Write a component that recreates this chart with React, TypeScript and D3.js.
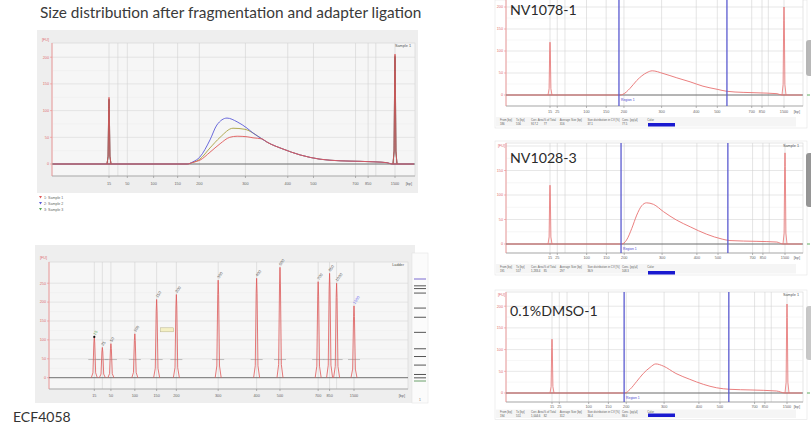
import React from "react";
import * as d3 from "d3";

// ---------------- DATA ----------------
const ladderSizes = [15, 25, 50, 100, 150, 200, 300, 400, 500, 700, 850, 1000, 1500];
const ladderFU = [108, 80, 90, 116, 207, 220, 258, 263, 292, 254, 276, 250, 190];

const sampleTicks = [15, 50, 100, 150, 200, 300, 400, 500, 700, 850, 1500];
const ladderTicks = [15, 50, 100, 150, 200, 300, 400, 500, 700, 850, 1500];
const panelTicks = [15, 25, 100, 150, 200, 300, 400, 500, 700, 850, 1500];
const fuTicks = [0, 50, 100, 150, 200];
const ladderFuTicks = [0, 50, 100, 150, 200, 250];
const markerSizes = [15, 1500];

// overlay of three samples (top-left)
const s1Bp = [172, 185, 201, 223, 245, 266, 282, 304, 318, 339, 351, 389, 448, 531, 626, 754, 983, 1290, 1420];
const s1Fu = [0, 3, 7, 22, 38, 50, 52, 51, 49, 47, 41, 28, 17, 9, 6, 5, 4, 2.5, 0];
const s2Bp = [172, 185, 201, 223, 238, 260, 282, 304, 318, 339, 351, 389, 448, 531, 626, 754, 983, 1290, 1420];
const s2Fu = [0, 4, 13, 45, 73, 86, 79, 67, 58, 47, 41, 28, 17, 9, 6, 5, 4, 2.5, 0];
const s3Bp = [172, 185, 201, 223, 245, 273, 299, 318, 339, 351, 389, 448, 531, 626, 754, 983, 1290, 1420];
const s3Fu = [0, 3, 9, 30, 50, 67, 65, 58, 47, 41, 28, 17, 9, 6, 5, 4, 2.5, 0];
const s1Markers = [125, 206];
const s2Markers = [122, 203];
const s3Markers = [120, 200];
const overlayNames = ["1: Sample 1", "2: Sample 2", "3: Sample 3"];

// individual samples (right)
const panelNames = ["NV1078-1", "NV1028-3", "0.1%DMSO-1"];
const p1Bp = [189, 197, 216, 234, 261, 275, 304, 344, 382, 432, 499, 556, 650, 777, 1276, 1430];
const p1Fu = [0, 1.5, 15, 33, 51, 55, 49, 39, 30, 20, 13, 8.4, 6, 5, 3, 0];
const p2Bp = [193, 206, 220, 233, 246, 259, 277, 304, 341, 381, 446, 524, 569, 763, 1240, 1430];
const p2Fu = [0, 8, 32, 59, 78, 84, 81, 66, 49, 35, 20, 10, 7, 5.4, 4, 0];
const p3Bp = [196, 210, 227, 245, 263, 278, 298, 334, 374, 421, 484, 557, 679, 1171, 1430];
const p3Fu = [0, 8.5, 26, 45, 59, 67, 62, 45, 31.5, 20, 12, 8.5, 7, 4.6, 0];
const p1Markers = [120, 200];
const p2Markers = [120, 186];
const p3Markers = [124, 205];
const regionFrom = [186, 191, 194];
const regionTo = [556, 557, 551];
const tableHeaders = ["From [bp]", "To [bp]", "Corr. Area", "% of Total", "Average Size [bp]", "Size distribution in CV [%]", "Conc. [pg/µl]", "Color"];
const tableValues = [
  ["186", "556", "917.2", "77", "316", "37.1", "77.5"],
  ["191", "557", "1,283.4", "85", "297", "36.9", "108.3"],
  ["194", "551", "1,004.6", "82", "312", "36.4", "86.0"],
];

// ---------------- SCALE CONFIG ----------------
// relative migration position of each ladder size (15 bp = 0, 1500 bp = 1)
const migration = [0, 0.031, 0.064, 0.156, 0.24, 0.316, 0.477, 0.625, 0.715, 0.862, 0.906, 0.933, 1];

function makeX(x15: number, x1500: number) {
  return d3.scaleLinear().domain(ladderSizes).range(migration.map((t) => x15 + t * (x1500 - x15)));
}
function makeY(base: number, px50: number) {
  return d3.scaleLinear().domain([0, 50]).range([base, base - px50]);
}

const SMALL = "'Liberation Sans', Arial, sans-serif";
const BIG = "Lato, 'Open Sans', sans-serif";

function spikePath(x: number, base: number, top: number, hw: number) {
  const h = base - top;
  const pts: [number, number][] = [
    [x - hw, base],
    [x - hw * 0.45, base - h * 0.12],
    [x - hw * 0.15, base - h * 0.85],
    [x, top],
    [x + hw * 0.15, base - h * 0.85],
    [x + hw * 0.45, base - h * 0.12],
    [x + hw, base],
  ];
  return d3.line()(pts) || "";
}

type Trace = { bp: number[]; fu: number[]; color: string; markers: number[]; spikeColor?: string };

type EpgProps = {
  left: number;
  top: number;
  right: number;
  axisY: number;
  base: number;
  px50: number;
  x15: number;
  x1500: number;
  ticks: number[];
  yTicks: number[];
  traces: Trace[];
  labelY: number;
  plotFill: string;
  title: string;
  clipId: string;
};

function Epg(p: EpgProps) {
  const xs = makeX(p.x15, p.x1500);
  const ys = makeY(p.base, p.px50);
  const line = d3.line().curve(d3.curveMonotoneX);
  const yT = p.yTicks.filter((v) => ys(v) > p.top + 6);
  const minorY = p.yTicks.slice(0, -1).map((v, i) => (v + p.yTicks[i + 1]) / 2).filter((v) => ys(v) > p.top);
  return (
    <g>
      <defs>
        <clipPath id={p.clipId}>
          <rect x={p.left} y={p.top} width={p.right - p.left} height={p.axisY - p.top} />
        </clipPath>
      </defs>
      <rect x={p.left} y={p.top} width={p.right - p.left} height={p.axisY - p.top} fill={p.plotFill} stroke="#d4d4d4" strokeWidth={0.6} />
      {minorY.map((v) => (
        <line key={"m" + v} x1={p.left} x2={p.right} y1={ys(v)} y2={ys(v)} stroke="#ececec" strokeWidth={0.5} />
      ))}
      {p.yTicks.filter((v) => ys(v) > p.top).map((v) => (
        <line key={"h" + v} x1={p.left} x2={p.right} y1={ys(v)} y2={ys(v)} stroke="#d6d6d6" strokeWidth={0.6} />
      ))}
      {ladderSizes.map((b) => (
        <line key={"v" + b} x1={xs(b)} x2={xs(b)} y1={p.top} y2={p.axisY} stroke="#d2d2d2" strokeWidth={0.6} />
      ))}
      {/* axes */}
      <line x1={p.left} x2={p.right} y1={p.axisY} y2={p.axisY} stroke="#9a9a9a" strokeWidth={0.7} />
      <line x1={p.left} x2={p.left} y1={p.top} y2={p.axisY} stroke="#f08a8a" strokeWidth={0.8} />
      {yT.map((v) => (
        <g key={"yt" + v}>
          <line x1={p.left - 2} x2={p.left} y1={ys(v)} y2={ys(v)} stroke="#f08a8a" strokeWidth={0.6} />
          <text x={p.left - 3} y={ys(v) + 1.3} fontSize={3.8} fill="#e07070" textAnchor="end" fontFamily={SMALL}>
            {v}
          </text>
        </g>
      ))}
      {p.ticks.map((b) => (
        <g key={"xt" + b}>
          <line x1={xs(b)} x2={xs(b)} y1={p.axisY} y2={p.axisY + 2} stroke="#888" strokeWidth={0.6} />
          <text x={xs(b)} y={p.labelY + 1.3} fontSize={3.8} fill="#666" textAnchor="middle" fontFamily={SMALL}>
            {b}
          </text>
        </g>
      ))}
      <text x={p.right - 3} y={p.labelY + 1.3} fontSize={3.8} fill="#666" textAnchor="end" fontFamily={SMALL}>
        [bp]
      </text>
      {p.top >= 0 && (
        <text x={p.right - 4} y={p.top + 4} fontSize={3.8} fill="#555" textAnchor="end" fontFamily={SMALL}>
          {p.title}
        </text>
      )}
      <g clipPath={`url(#${p.clipId})`}>
        <line x1={p.left} x2={p.right} y1={ys(0)} y2={ys(0)} stroke="#555" strokeWidth={0.8} />
        {p.traces.map((t, i) => {
          const pts: [number, number][] = [
            [p.left + 1, ys(0)],
            ...t.bp.map((b, j) => [xs(b), ys(t.fu[j])] as [number, number]),
            [p.right - 1, ys(0)],
          ];
          return (
            <g key={"tr" + i}>
              <path d={line(pts) || ""} fill="none" stroke={t.color} strokeWidth={0.9} />
              {markerSizes.map((m, j) => (
                <path key={"mk" + j} d={spikePath(xs(m), ys(0), ys(t.markers[j]), 2)} fill="none" stroke={t.spikeColor || t.color} strokeWidth={0.8} />
              ))}
            </g>
          );
        })}
      </g>
    </g>
  );
}

function App() {
  // ---- Top-left overlay
  const overlayTraces: Trace[] = [
    { bp: s3Bp, fu: s3Fu, color: "#a8a040", markers: s3Markers, spikeColor: "#666" },
    { bp: s2Bp, fu: s2Fu, color: "#5a5ad8", markers: s2Markers, spikeColor: "#555" },
    { bp: s1Bp, fu: s1Fu, color: "#e05858", markers: s1Markers },
  ];
  const overlayColors = ["#e05858", "#5a5ad8", "#58a858"];

  // ---- Ladder
  const lx = makeX(94.3, 354);
  const ly = makeY(377.7, 18.9);
  const gy = d3.scaleLinear().domain(ladderSizes).range(migration.map((t) => 381 - t * 102));

  const panels = [
    { top: -6, base: 95, px50: 22, axisY: 106, labelY: 112, x15: 550, x1500: 784, th: 120.5, tv: 125, bar: 123, bp: p1Bp, fu: p1Fu, mk: p1Markers, gel: [40, 76], gelCol: "#9a9a9a", nameY: 15 },
    { top: 143, base: 244, px50: 24.5, axisY: 253, labelY: 258, x15: 550, x1500: 785, th: 267.5, tv: 272, bar: 271, bp: p2Bp, fu: p2Fu, mk: p2Markers, gel: [153, 207], gelCol: "#6a6a6a", nameY: 163 },
    { top: 292, base: 393, px50: 21.7, axisY: 402, labelY: 407, x15: 552, x1500: 787, th: 413, tv: 416.5, bar: 413.5, bp: p3Bp, fu: p3Fu, mk: p3Markers, gel: [306, 360], gelCol: "#b0b0b0", nameY: 316 },
  ];

  return (
    <svg width={811} height={430} style={{ position: "absolute", left: 0, top: 0, background: "#fff" }}>
      <rect width={811} height={430} fill="#fff" />
      {/* title */}
      <text x={40} y={18} fontSize={15.4} fill="#3a3a3a" fontFamily={BIG}>
        Size distribution after fragmentation and adapter ligation
      </text>

      {/* Top-left overlay electropherogram */}
      <rect x={37} y={30} width={381} height={163} fill="#eeeeee" />
      <Epg left={52} top={43} right={415} axisY={176} base={164} px50={26.7} x15={109} x1500={395} ticks={sampleTicks} yTicks={fuTicks} traces={overlayTraces} labelY={184} plotFill="#f6f6f6" title="Sample 1" clipId="c0" />
      <text x={42} y={41} fontSize={3.8} fill="#e07070" fontFamily={SMALL}>[FU]</text>
      {overlayNames.map((n, i) => (
        <g key={n}>
          <path d={`M${39},${196 + i * 6} l1.5,2.5 l1.5,-2.5 z`} fill={overlayColors[i]} />
          <text x={44} y={198.5 + i * 6} fontSize={3.6} fill="#666" fontFamily={SMALL}>{n}</text>
        </g>
      ))}

      {/* Ladder */}
      <rect x={35} y={245} width={380} height={158} fill="#eeeeee" />
      <Epg left={49} top={262} right={408} axisY={389} base={377.7} px50={18.9} x15={94.3} x1500={354} ticks={ladderTicks} yTicks={ladderFuTicks} traces={[]} labelY={396} plotFill="#f6f6f6" title="Ladder" clipId="c1" />
      <text x={40} y={259} fontSize={3.8} fill="#e07070" fontFamily={SMALL}>[FU]</text>
      {ladderSizes.map((b, i) => {
        const x = lx(b);
        const top = ly(ladderFU[i]);
        const lblCol = i === 0 ? "#4a9a4a" : i === ladderSizes.length - 1 ? "#6a6af0" : "#555";
        return (
          <g key={"lp" + b}>
            <line x1={x - 6} x2={x + 6} y1={ly(48)} y2={ly(48)} stroke="#999" strokeWidth={0.6} />
            <path d={spikePath(x, ly(0), top, 3)} fill="none" stroke="#e05858" strokeWidth={0.8} />
            <text x={x + 1} y={top - 1.5} fontSize={4} fill={lblCol} fontFamily={SMALL} transform={`rotate(-55 ${x + 1} ${top - 1.5})`}>
              {b}
            </text>
            {i === 0 && <circle cx={x} cy={top} r={1.1} fill="#111" />}
          </g>
        );
      })}
      <rect x={lx(160)} y={ly(132)} width={13} height={4} fill="#f4f0c4" stroke="#b8b28a" strokeWidth={0.5} />
      {/* gel lane */}
      <rect x={412} y={253} width={16} height={150} fill="#fbfbfb" stroke="#e0e0e0" strokeWidth={0.5} />
      {ladderSizes.map((b, i) => (
        <line key={"gb" + b} x1={414} x2={426} y1={gy(b)} y2={gy(b)} stroke={i === 0 ? "#6aa06a" : i === ladderSizes.length - 1 ? "#7a6ad0" : "#555"} strokeWidth={1} />
      ))}
      <text x={419} y={401} fontSize={3.5} fill="#777" fontFamily={SMALL}>1</text>

      <text x={13} y={422} fontSize={14} fill="#333" fontFamily={BIG}>ECF4058</text>

      {/* Right panels */}
      {panels.map((pn, k) => {
        const xs = makeX(pn.x15, pn.x1500);
        const trace: Trace = { bp: pn.bp, fu: pn.fu, color: "#e87070", markers: pn.mk };
        const colW = [0, 14, 27, 38, 52, 76, 106, 128];
        return (
          <g key={"pn" + k}>
            <rect x={495} y={Math.max(pn.top - 2, 0)} width={312} height={pn.tv + 3 - Math.max(pn.top - 2, 0)} fill="#fff" stroke="#e4e4e4" strokeWidth={0.6} />
            <Epg left={506} top={pn.top} right={803} axisY={pn.axisY} base={pn.base} px50={pn.px50} x15={pn.x15} x1500={pn.x1500} ticks={panelTicks} yTicks={fuTicks} traces={[trace]} labelY={pn.labelY} plotFill="#ffffff" title="Sample 1" clipId={"cp" + k} />
            {pn.top >= 0 && (
              <text x={498} y={pn.top + 4} fontSize={3.8} fill="#e07070" fontFamily={SMALL}>[FU]</text>
            )}
            {[regionFrom[k], regionTo[k]].map((b, j) => (
              <line key={"rg" + j} x1={xs(b)} x2={xs(b)} y1={Math.max(pn.top, 0)} y2={pn.axisY} stroke="#5a5ad0" strokeWidth={1.3} />
            ))}
            <text x={xs(regionFrom[k]) + 2} y={pn.base + 6} fontSize={3.4} fill="#4a4ad0" fontFamily={SMALL}>Region 1</text>
            <rect x={496} y={pn.th - 3.5} width={300} height={pn.tv - pn.th + 5} fill="#f5f5f5" />
            {tableHeaders.map((h, j) => (
              <text key={"th" + j} x={500 + colW[j] * 1.15} y={pn.th} fontSize={2.8} fill="#666" fontFamily={SMALL}>{h}</text>
            ))}
            {tableValues[k].map((v, j) => (
              <text key={"tv" + j} x={500 + colW[j] * 1.15} y={pn.tv} fontSize={2.8} fill="#555" fontFamily={SMALL}>{v}</text>
            ))}
            <rect x={648} y={pn.bar} width={27} height={3.5} fill="#1a1ad0" />
            <text x={510} y={pn.nameY} fontSize={14.2} fill="#2a2a2a" fontFamily={BIG}>{panelNames[k]}</text>
            {/* cropped gel at right edge */}
            <rect x={806} y={pn.gel[0]} width={8} height={pn.gel[1] - pn.gel[0]} rx={3} fill={pn.gelCol} opacity={0.7} />
            <line x1={807} x2={810} y1={pn.base} y2={pn.base} stroke="#3a9a3a" strokeWidth={0.8} />
          </g>
        );
      })}
    </svg>
  );
}

export default App;
